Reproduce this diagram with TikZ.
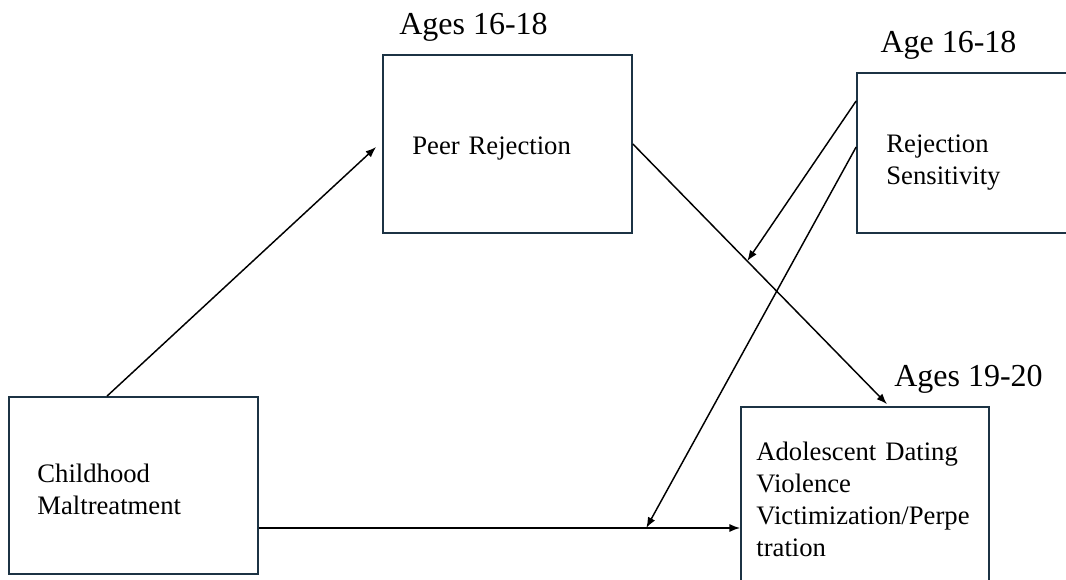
\documentclass[tikz,border=0pt]{standalone}
\usepackage{fontspec}
\setmainfont{Liberation Serif}
\usetikzlibrary{calc,arrows.meta}
\definecolor{boxline}{HTML}{1C3344}

\begin{document}
\begin{tikzpicture}[x=0.75pt,y=-0.75pt,
  box/.style={draw=boxline,line width=1.3pt,minimum width=186.75pt,inner sep=0pt},
  boxtext/.style={anchor=base west,align=left,text width=170pt,inner sep=0pt,font=\fontsize{20}{24}\selectfont},
  age/.style={anchor=base,font=\fontsize{24}{28}\selectfont},
  arr/.style={line width=1.1pt,-{Latex[length=8pt,width=6pt]}}]
\clip (0,0) rectangle (1066,580);
\node[box,minimum height=132.75pt] (CM) at (133.5,485.5) {};
\node[box,minimum height=133.5pt] (PR) at (507.5,144) {};
\node[box,minimum height=120pt] (RS) at (981.5,153) {};
\node[box,minimum width=186pt,minimum height=135pt] (ADV) at (865,497) {};
\node[boxtext] (tCM) at ($(CM.west)+(29,-3.5)$) {Childhood\\Maltreatment};
\node[boxtext] (tPR) at ($(PR.west)+(30,11)$) {Peer Rejection};
\node[boxtext] (tRS) at ($(RS.west)+(30,0)$) {Rejection\\Sensitivity};
\node[boxtext] (tADV) at ($(ADV.west)+(16,-37)$) {Adolescent Dating\\Violence\\Victimization/Perpe\\tration};
\node[age] (agePR) at (473.5,35) {Ages 16-18};
\node[age] (ageRS) at (948.5,53) {Age 16-18};
\node[age] (ageADV) at (968.5,387) {Ages 19-20};
\coordinate (cmout) at ($(CM.east)+(0,42.5)$);
\draw[arr] ($(CM.north)+(-26.5,0)$) -- ($(PR.west)+(-6,3)$);
\draw[arr] (PR.east) -- coordinate[pos=0.45] (m1) ($(ADV.north)+(22,-2)$);
\draw[arr] (cmout) -- coordinate[pos=0.805] (m2) (cmout -| ADV.west);
\draw[arr] ($(RS.west)+(0,-52)$) -- (m1);
\draw[arr] ($(RS.west)+(0,-6)$) -- (m2);
\end{tikzpicture}
\end{document}
